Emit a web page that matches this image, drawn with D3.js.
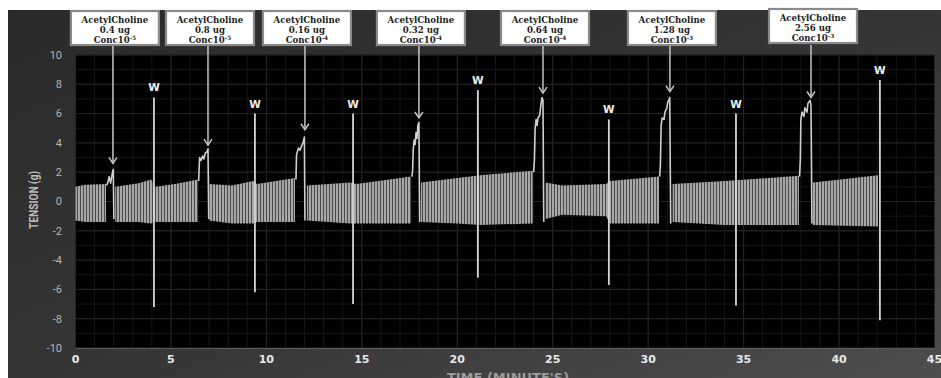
<!DOCTYPE html>
<html><head><meta charset="utf-8">
<script src="https://cdn.jsdelivr.net/npm/d3@7"></script>
<style>html,body{margin:0;padding:0;background:#fff;} svg{display:block}</style>
</head><body>
<svg id="chart" width="941" height="378"></svg>
<script>
// ---------- DATA ----------
const xTickValues = [0, 5, 10, 15, 20, 25, 30, 35, 40, 45];
const yTickValues = [-10, -8, -6, -4, -2, 0, 2, 4, 6, 8, 10];

// Acetylcholine doses: time of addition (min) and arrow tip (g)
const doseTime   = [1.96, 6.94, 12.02, 17.99, 24.49, 31.14, 38.53];
const doseTip    = [2.6, 3.85, 4.9, 5.7, 7.4, 7.5, 7.1];
const doseAmount = ["0.4 ug", "0.8 ug", "0.16 ug", "0.32 ug", "0.64 ug", "1.28 ug", "2.56 ug"];
const doseExp    = ["-5", "-5", "-4", "-4", "-4", "-3", "-3"];

// Washout (W) artefacts: time, upper and lower extreme
const washTime   = [4.11, 9.40, 14.54, 21.08, 27.94, 34.60, 42.14];
const washTop    = [7.1, 6.0, 6.0, 7.6, 5.6, 6.0, 8.3];
const washBottom = [-7.2, -6.2, -7.0, -5.2, -5.7, -7.1, -8.1];

// Spontaneous oscillation bands: [time, upper envelope, lower envelope]
const band1 = [[0.0, 1.0, -1.3], [0.5, 1.15, -1.4], [1.6, 1.2, -1.4]];
const band2 = [[2.08, 1.0, -1.4], [3.3, 1.25, -1.4], [3.95, 1.5, -1.5], [4.2, 1.0, -1.4], [5.2, 1.2, -1.4], [6.42, 1.5, -1.4]];
const band3 = [[7.0, 1.2, -1.3], [8.2, 1.1, -1.5], [9.3, 1.4, -1.5], [9.5, 1.2, -1.4], [11.5, 1.6, -1.4]];
const band4 = [[12.12, 1.1, -1.3], [14.4, 1.3, -1.5], [14.7, 1.2, -1.5], [17.58, 1.7, -1.5]];
const band5 = [[18.1, 1.3, -1.4], [20.0, 1.6, -1.5], [21.2, 1.8, -1.6], [23.95, 2.1, -1.5]];
const band6 = [[24.62, 1.3, -1.2], [25.5, 1.1, -0.9], [27.8, 1.2, -1.0], [28.0, 1.4, -1.5], [30.57, 1.7, -1.5]];
const band7 = [[31.28, 1.2, -1.4], [34.0, 1.4, -1.6], [37.9, 1.75, -1.6]];
const band8 = [[38.63, 1.3, -1.6], [42.04, 1.8, -1.7]];
const baselineBands = [band1, band2, band3, band4, band5, band6, band7, band8];

// Contractile responses to each dose: [time, tension]
const response1 = [[1.62, 1.1], [1.70, 1.3], [1.76, 1.7], [1.84, 1.25], [1.91, 1.8], [1.98, 2.2], [2.01, -1.2]];
const response2 = [[6.45, 1.4], [6.50, 3.0], [6.57, 2.8], [6.66, 3.1], [6.72, 2.9], [6.80, 3.3], [6.89, 3.4], [6.94, 3.6], [6.98, -1.2]];
const response3 = [[11.55, 1.5], [11.58, 3.2], [11.68, 3.65], [11.76, 3.5], [11.86, 3.85], [11.92, 4.0], [11.99, 4.4], [12.02, -1.3]];
const response4 = [[17.62, 1.7], [17.66, 2.1], [17.69, 3.5], [17.74, 4.2], [17.79, 3.9], [17.84, 4.7], [17.89, 4.3], [17.94, 5.2], [17.99, 5.4], [18.03, -1.4]];
const response5 = [[24.0, 2.0], [24.04, 2.8], [24.08, 5.0], [24.13, 5.6], [24.18, 5.2], [24.23, 5.7], [24.32, 5.9], [24.38, 6.6], [24.44, 7.1], [24.49, 6.9], [24.53, -1.4]];
const response6 = [[30.60, 1.7], [30.64, 2.5], [30.68, 5.2], [30.73, 5.7], [30.83, 5.6], [30.88, 6.1], [30.98, 6.4], [31.03, 6.8], [31.08, 6.9], [31.13, 7.1], [31.18, -1.5]];
const response7 = [[37.93, 1.7], [37.97, 2.8], [38.0, 5.6], [38.06, 6.1], [38.16, 5.8], [38.21, 6.4], [38.32, 6.1], [38.37, 6.7], [38.48, 6.9], [38.53, 6.6], [38.58, -1.5]];
const responses = [response1, response2, response3, response4, response5, response6, response7];

// ---------- DRAWING ----------
const svg = d3.select("#chart");
const W = 941, H = 378;
const plot = {left: 75.5, right: 934.5, top: 55, bottom: 348};

const x = d3.scaleLinear().domain([0, 45]).range([plot.left, plot.right]);
const y = d3.scaleLinear().domain([-10, 10]).range([plot.bottom, plot.top]);

const defs = svg.append("defs");
const grad = defs.append("linearGradient").attr("id", "panelGrad")
  .attr("x1", "0").attr("y1", "0").attr("x2", "1").attr("y2", "1");
grad.append("stop").attr("offset", "0%").attr("stop-color", "#2a2a2a");
grad.append("stop").attr("offset", "55%").attr("stop-color", "#363636");
grad.append("stop").attr("offset", "100%").attr("stop-color", "#4e4e4e");

const pat = defs.append("pattern").attr("id", "stripes")
  .attr("patternUnits", "userSpaceOnUse").attr("width", 3).attr("height", 20);
pat.append("rect").attr("width", 3).attr("height", 20).attr("fill", "#4a4a4a");
pat.append("rect").attr("x", 0).attr("width", 2).attr("height", 20).attr("fill", "#a8a8a8");

// outer panel
svg.append("rect").attr("x", 8).attr("y", 10).attr("width", W - 8).attr("height", H - 10)
  .attr("fill", "url(#panelGrad)");

// plot area
svg.append("rect").attr("x", plot.left).attr("y", plot.top)
  .attr("width", plot.right - plot.left).attr("height", plot.bottom - plot.top)
  .attr("fill", "#000");

// grid
const grid = svg.append("g");
grid.selectAll(".vminor").data(x.ticks(45)).join("line")
  .attr("x1", d => x(d)).attr("x2", d => x(d)).attr("y1", plot.top).attr("y2", plot.bottom)
  .attr("stroke", "#161616").attr("stroke-width", 1);
grid.selectAll(".hminor").data(y.ticks(20)).join("line")
  .attr("y1", d => y(d)).attr("y2", d => y(d)).attr("x1", plot.left).attr("x2", plot.right)
  .attr("stroke", "#161616").attr("stroke-width", 1);
grid.selectAll(".vmajor").data(xTickValues).join("line")
  .attr("x1", d => x(d)).attr("x2", d => x(d)).attr("y1", plot.top).attr("y2", plot.bottom)
  .attr("stroke", "#242424").attr("stroke-width", 1);
grid.selectAll(".hmajor").data(yTickValues).join("line")
  .attr("y1", d => y(d)).attr("y2", d => y(d)).attr("x1", plot.left).attr("x2", plot.right)
  .attr("stroke", "#242424").attr("stroke-width", 1);
svg.append("line").attr("x1", plot.left).attr("x2", plot.right)
  .attr("y1", plot.bottom + 0.5).attr("y2", plot.bottom + 0.5)
  .attr("stroke", "#5a5a5a").attr("stroke-width", 1.2);

// oscillation bands
const bandArea = d3.area().x(d => x(d[0])).y0(d => y(d[2])).y1(d => y(d[1]));
svg.append("g").selectAll("path").data(baselineBands).join("path")
  .attr("d", bandArea).attr("fill", "url(#stripes)");

// responses
const line = d3.line().x(d => x(d[0])).y(d => y(d[1]));
svg.append("g").selectAll("path").data(responses).join("path")
  .attr("d", line).attr("fill", "none").attr("stroke", "#cfcfcf")
  .attr("stroke-width", 1.6).attr("stroke-linejoin", "round");

// washout spikes
const wash = svg.append("g");
wash.selectAll("line").data(washTime).join("line")
  .attr("x1", d => x(d)).attr("x2", d => x(d))
  .attr("y1", (d, i) => y(washTop[i])).attr("y2", (d, i) => y(washBottom[i]))
  .attr("stroke", "#d6d6d6").attr("stroke-width", 1.8);
wash.selectAll("text").data(washTime).join("text")
  .attr("x", d => x(d)).attr("y", (d, i) => y(washTop[i]) - 6)
  .attr("text-anchor", "middle").attr("font-family", "DejaVu Sans").attr("font-weight", "bold")
  .attr("font-size", 10.5).attr("fill", "#f0f0f0").text("W");

// dose arrows
const boxTop = 11, boxH = 34, boxW = 88;
const arrows = svg.append("g").attr("stroke", "#c4c4c4").attr("stroke-width", 1.5).attr("fill", "none");
doseTime.forEach((t, i) => {
  const ax = x(t), ty = y(doseTip[i]);
  arrows.append("line").attr("x1", ax).attr("x2", ax).attr("y1", boxTop + boxH).attr("y2", ty);
  arrows.append("path").attr("d", `M${ax - 4},${ty - 6}L${ax},${ty}L${ax + 4},${ty - 6}`);
});

// dose boxes
const boxes = svg.append("g");
doseTime.forEach((t, i) => {
  const cx = x(t) + 2;
  const by = i === 6 ? boxTop - 2 : boxTop;
  boxes.append("rect").attr("x", cx - boxW / 2).attr("y", by).attr("width", boxW).attr("height", boxH)
    .attr("fill", "#fff").attr("stroke", "#8a8a8a").attr("stroke-width", 2.2);
  const tx = boxes.append("text").attr("text-anchor", "middle")
    .attr("font-family", "DejaVu Serif").attr("font-weight", "bold")
    .attr("font-size", 8.6).attr("fill", "#222");
  tx.append("tspan").attr("x", cx).attr("y", by + 11.5).text("AcetylCholine");
  tx.append("tspan").attr("x", cx).attr("y", by + 22).text(doseAmount[i]);
  tx.append("tspan").attr("x", cx).attr("y", by + 32).text("Conc10");
  tx.append("tspan").attr("dy", -3.5).attr("font-size", 5.8).text(doseExp[i]);
});

// axis tick labels
svg.append("g").selectAll("text").data(yTickValues).join("text")
  .attr("x", 62).attr("y", d => y(d)).attr("dy", "0.35em").attr("text-anchor", "end")
  .attr("font-family", "Roboto").attr("font-size", 11).attr("fill", "#b4b4b4")
  .text(d => d);
svg.append("g").selectAll("text").data(xTickValues).join("text")
  .attr("x", d => x(d)).attr("y", 363).attr("text-anchor", "middle")
  .attr("font-family", "DejaVu Sans").attr("font-weight", "bold").attr("font-size", 11)
  .attr("fill", "#e8e8e8").text(d => d);

// axis titles
svg.append("text").attr("x", 508).attr("y", 382).attr("text-anchor", "middle")
  .attr("font-family", "DejaVu Sans").attr("font-weight", "bold").attr("font-size", 13)
  .attr("fill", "#9c9c9c").text("TIME (MINUTE'S)");
svg.append("text").attr("transform", "translate(38,200) rotate(-90)").attr("text-anchor", "middle")
  .attr("font-family", "Roboto").attr("font-weight", "bold").attr("font-size", 12)
  .attr("textLength", 58).attr("lengthAdjust", "spacingAndGlyphs")
  .attr("fill", "#bdbdbd").text("TENSION (g)");
</script>
</body></html>
